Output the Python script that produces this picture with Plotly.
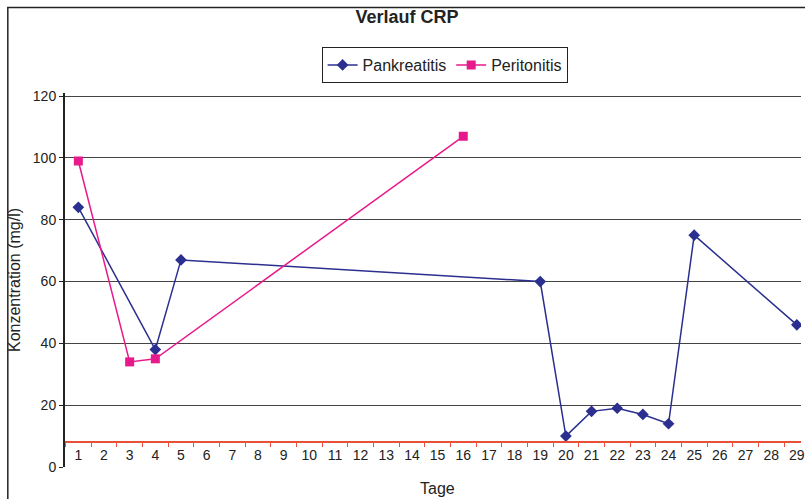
import plotly.graph_objects as go

categories = [str(i) for i in range(1, 30)]
pank_days = ["1", "4", "5", "19", "20", "21", "22", "23", "24", "25", "29"]
pank_vals = [84, 38, 67, 60, 10, 18, 19, 17, 14, 75, 46]
peri_days = ["1", "3", "4", "16"]
peri_vals = [99, 34, 35, 107]
y_ticks = [0, 20, 40, 60, 80, 100, 120]
red_line_level = 8

W, H = 805, 499
L, R, T, B = 65, 0, 93, 32
plot_w = W - L - R
plot_h = H - T - B
ymax = 121

def px_x(px):
    return (px - L) / plot_w

def px_y(py):
    return (H - B - py) / plot_h

FONT = "Liberation Sans, Arial, sans-serif"

fig = go.Figure()
fig.add_trace(go.Scatter(
    x=pank_days, y=pank_vals, name="Pankreatitis", mode="lines+markers",
    line=dict(color="#2B2F8F", width=1.5),
    marker=dict(symbol="diamond", size=9, color="#2B2F8F"),
))
fig.add_trace(go.Scatter(
    x=peri_days, y=peri_vals, name="Peritonitis", mode="lines+markers",
    line=dict(color="#E8198B", width=1.5),
    marker=dict(symbol="square", size=9, color="#E8198B"),
))

xr = [-0.52, -0.52 + plot_w / 25.8]

fig.update_layout(
    width=W, height=H,
    margin=dict(l=L, r=R, t=T, b=B, pad=0),
    paper_bgcolor="white", plot_bgcolor="white",
    font=dict(family=FONT, size=14, color="#222"),
    title=dict(text="<b>Verlauf CRP</b>", x=407 / W, xref="container", xanchor="center",
               y=1 - 17 / H, yref="container", yanchor="middle",
               font=dict(family=FONT, size=18, color="#222")),
    showlegend=True,
    legend=dict(orientation="h", x=px_x(323), y=px_y(47), xanchor="left", yanchor="top",
                bordercolor="#222", borderwidth=1, bgcolor="white",
                font=dict(family=FONT, size=16, color="#222"),
                itemwidth=30, tracegroupgap=0),
    xaxis=dict(type="category", categoryorder="array", categoryarray=categories,
               range=xr, anchor="free", position=red_line_level / ymax,
               showline=True, linecolor="#E8503A", linewidth=1.5,
               ticks="outside", ticklen=4, tickcolor="#E8503A", tickson="boundaries",
               tickfont=dict(family=FONT, size=14, color="#222"),
               showgrid=False, zeroline=False, fixedrange=True),
    xaxis2=dict(overlaying="x", anchor="y", side="bottom", range=[0, 1],
                showline=True, linecolor="#888", linewidth=2, showticklabels=False,
                ticks="", showgrid=False, zeroline=False),
    yaxis=dict(range=[0, ymax], tickvals=y_ticks, showline=True, linecolor="#222",
               linewidth=2, ticks="outside", ticklen=4, tickcolor="#222",
               showgrid=True, gridcolor="#444", gridwidth=1, zeroline=False,
               tickfont=dict(family=FONT, size=14, color="#222"),
               title=dict(text="Konzentration (mg/l)", standoff=8,
                          font=dict(family=FONT, size=16, color="#222"))),
    annotations=[dict(text="Tage", xref="paper", yref="paper", x=px_x(440), y=px_y(488),
                      xanchor="center", yanchor="middle", showarrow=False,
                      font=dict(family=FONT, size=16, color="#222"))],
    shapes=[dict(type="rect", xref="paper", yref="paper",
                 x0=px_x(7.5), x1=px_x(900), y0=px_y(600), y1=px_y(7.5),
                 line=dict(color="#222", width=1.5), fillcolor="rgba(0,0,0,0)", layer="below")],
)

fig.write_html("out.html")
